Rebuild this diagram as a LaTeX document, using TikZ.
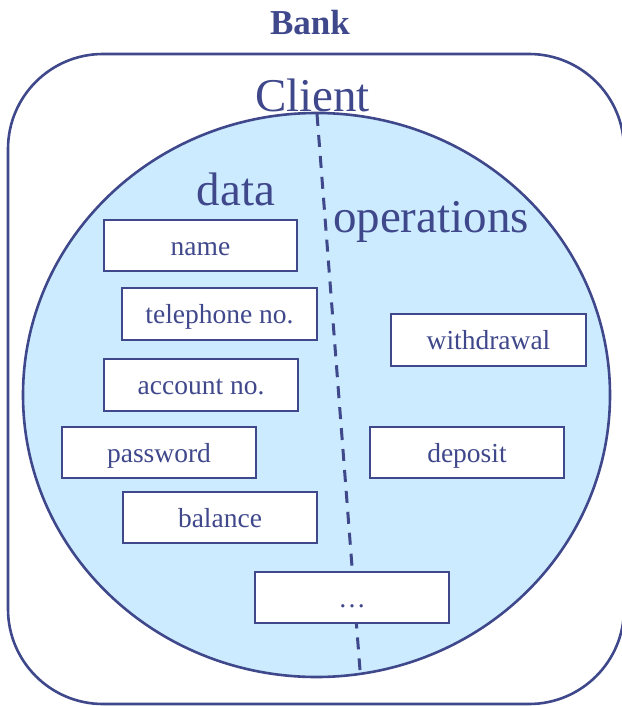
\documentclass[tikz,border=0pt]{standalone}
\usepackage{fontspec}
\setmainfont{Liberation Serif}
\definecolor{ink}{RGB}{64,72,140}
\definecolor{skyfill}{RGB}{204,235,255}
\tikzset{
  frame/.style={draw=ink, line width=2.6pt},
  field/.style={draw=ink, line width=1.4pt, fill=white},
  boxlabel/.style={anchor=base, text=ink, inner sep=0pt, font=\fontsize{27.5}{30}\selectfont},
  biglabel/.style={anchor=base, text=ink, inner sep=0pt, font=\fontsize{47}{50}\selectfont},
}
\begin{document}
\begin{tikzpicture}[x=1pt, y=-1pt]
\useasboundingbox (0,0) rectangle (621,706);

% bank frame
\draw[frame, rounded corners=95pt] (8,54) rectangle (624,704);
\node[anchor=base, text=ink, inner sep=0pt, font=\fontsize{35}{38}\selectfont\bfseries] (bank) at (310,35) {Bank};

% client object
\draw[frame, fill=skyfill] (316.5,395) ellipse [x radius=293.5, y radius=282];
\coordinate (divtop) at (317,114);
\coordinate (divbot) at (360,670);
\draw[draw=ink, line width=3pt, dash pattern=on 12pt off 9pt] (divtop) -- (divbot);

\node[biglabel] (client) at (312.5,112) {Client};
\node[biglabel] (data) at (236,205) {data};
\node[biglabel] (ops) at (431,232) {operations};

% data fields
\draw[field] (104,220) rectangle (297,271);
\node[boxlabel] (name) at (200.5,255) {name};
\draw[field] (122,288) rectangle (317,340);
\node[boxlabel] (tel) at (219.5,323) {telephone no.};
\draw[field] (104,359) rectangle (298,411);
\node[boxlabel] (acc) at (201,394) {account no.};
\draw[field] (62,427) rectangle (256,478);
\node[boxlabel] (pwd) at (159,462) {password};
\draw[field] (123,492) rectangle (317,543);
\node[boxlabel] (bal) at (220,527) {balance};

% operations
\draw[field] (391,314) rectangle (586,366);
\node[boxlabel] (wd) at (488.5,349) {withdrawal};
\draw[field] (370,427) rectangle (564,478);
\node[boxlabel] (dep) at (467,462) {deposit};

% more
\draw[field] (255,572) rectangle (449,623);
\node[boxlabel] (more) at (352,607) {\dots};
\end{tikzpicture}
\end{document}
